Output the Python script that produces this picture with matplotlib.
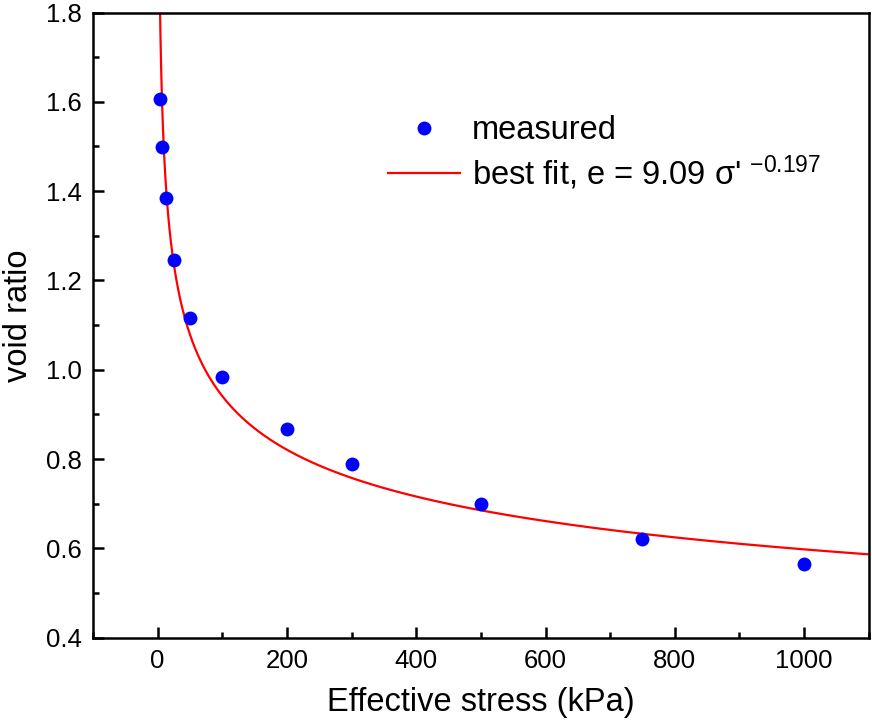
import numpy as np
import matplotlib
matplotlib.use("Agg")
import matplotlib.pyplot as plt
from matplotlib.ticker import MultipleLocator

plt.rcParams['font.family'] = ['Liberation Sans', 'DejaVu Sans']
plt.rcParams['mathtext.fontset'] = 'custom'
plt.rcParams['mathtext.rm'] = 'Liberation Sans'
plt.rcParams['mathtext.default'] = 'regular'

# measured points (kPa, void ratio)
stress = [3.125, 6.25, 12.5, 25, 50, 100, 200, 300, 500, 750, 1000]
void_ratio = [1.606, 1.499, 1.384, 1.245, 1.117, 0.983, 0.867, 0.790, 0.700, 0.622, 0.566]

# best fit e = a * sigma'^b (sigma' in Pa)
fit_a = 9.09
fit_b = -0.197

x_ticks = [0, 200, 400, 600, 800, 1000]
y_ticks = [0.4, 0.6, 0.8, 1.0, 1.2, 1.4, 1.6, 1.8]

fig = plt.figure(figsize=(8.72, 7.24), dpi=100)
ax = fig.add_axes([0.1067, 0.1192, 0.8895, 0.8635])

s = np.linspace(0.5, 1100, 3000)
ax.plot(s, fit_a * (s * 1000) ** fit_b, color='#ff0000', lw=1.6,
        label="best fit, e = 9.09 σ' $^{-0.197}$", zorder=2)
ax.plot(stress, void_ratio, 'o', color='#0000ff', ms=10, mec='none',
        label='measured', zorder=3)

ax.set_xlim(-100, 1100)
ax.set_ylim(0.4, 1.8)
ax.set_xticks(x_ticks)
ax.set_yticks(y_ticks)
ax.set_yticklabels([f"{v:.1f}" for v in y_ticks])
ax.xaxis.set_minor_locator(MultipleLocator(100))
ax.yaxis.set_minor_locator(MultipleLocator(0.1))
ax.tick_params(which='both', direction='in', width=1.8, labelsize=18.5, pad=8)
ax.tick_params(which='major', length=8)
ax.tick_params(which='minor', length=4.5)
for sp in ax.spines.values():
    sp.set_linewidth(1.8)

ax.set_xlabel('Effective stress (kPa)', fontsize=23.5, labelpad=10)
ax.set_ylabel('void ratio', fontsize=23.5)
ax.yaxis.set_label_coords(-0.076, 0.515)

h, l = ax.get_legend_handles_labels()
ax.legend(h[::-1], l[::-1], loc='upper left', bbox_to_anchor=(0.364, 0.857),
          frameon=False, fontsize=23.5, handlelength=2.2, handletextpad=0.35,
          labelspacing=0.22, borderaxespad=0)

fig.savefig('out.png', dpi=100)
